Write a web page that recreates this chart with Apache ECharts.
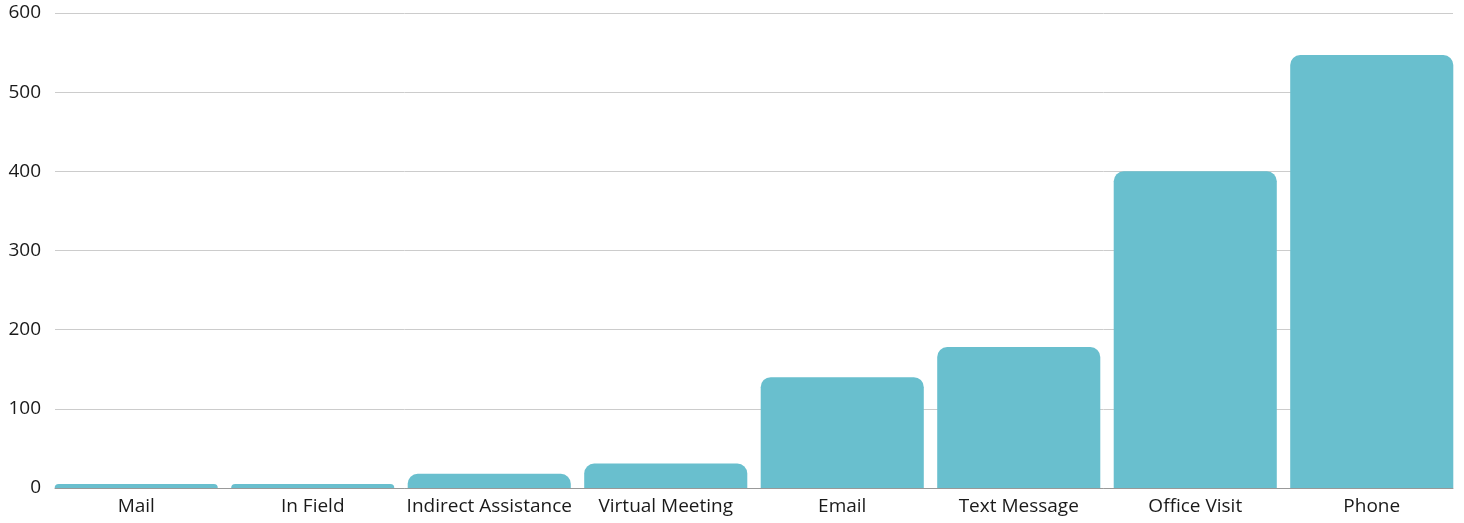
<!DOCTYPE html>
<html><head><meta charset="utf-8">
<script src="https://cdn.jsdelivr.net/npm/echarts@6/dist/echarts.min.js"></script>
<style>html,body{margin:0;padding:0;background:#fff}#c{width:1464px;height:523px}</style>
</head><body><div id="c"></div>
<script>
const categories = ["Mail","In Field","Indirect Assistance","Virtual Meeting","Email","Text Message","Office Visit","Phone"];
const values = [5, 5, 18, 31, 140, 178, 400, 547];
const yTicks = {min:0, max:600, interval:100};
const font = 'Open Sans';
const chart = echarts.init(document.getElementById('c'));
chart.setOption({
  animation:false,
  textStyle:{fontFamily:font},
  grid:[
    {left:55,right:11,top:13,bottom:35},
    {left:48,right:4,top:13,bottom:35}
  ],
  xAxis:[
    {gridIndex:0,type:'category',data:categories,
      axisLine:{lineStyle:{color:'#999'}},axisTick:{show:false},axisLabel:{show:false}},
    {gridIndex:1,type:'category',data:categories,
      axisLine:{show:false},axisTick:{show:false},
      axisLabel:{color:'#1a1a1a',fontSize:19,margin:9,interval:0,fontFamily:font}}
  ],
  yAxis:[
    {gridIndex:0,type:'value',min:yTicks.min,max:yTicks.max,interval:yTicks.interval,
      axisLabel:{color:'#1a1a1a',fontSize:19,margin:14,fontFamily:font},
      splitLine:{lineStyle:{color:'#cccccc'}}},
    {gridIndex:1,type:'value',min:yTicks.min,max:yTicks.max,interval:yTicks.interval,
      show:false,splitLine:{show:false}}
  ],
  series:[{type:'bar',xAxisIndex:1,yAxisIndex:1,data:values,barCategoryGap:'7.6%',
    itemStyle:{color:'#69BFCE',borderRadius:[10,10,0,0]}}]
});
</script></body></html>
